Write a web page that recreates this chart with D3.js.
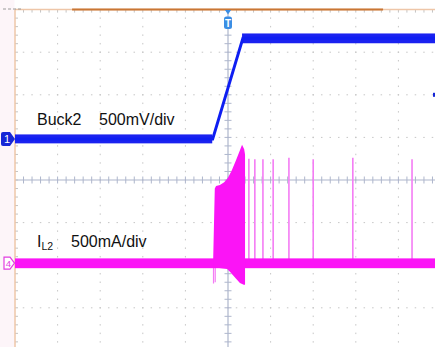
<!DOCTYPE html>
<html>
<head>
<meta charset="utf-8">
<script src="https://cdn.jsdelivr.net/npm/d3@7"></script>
<style>
  html, body { margin: 0; padding: 0; background: #fff; }
  svg { display: block; font-family: "Liberation Sans", Arial, sans-serif; }
</style>
</head>
<body>
<svg id="scope"></svg>
<script>
// scope grid: 10 x 8 divisions, values below are in divisions
const xDivs = [0, 10];
const yDivs = [-4, 4];

// Ch1 (Buck2) centre line, t = div, v = div
const buckTime  = [0, 4.64, 5.35, 10.4];
const buckLevel = [0.96, 0.96, 3.33, 3.33];
// noise band of the flat parts
const buckBandFrom = [0, 5.33];
const buckBandTo   = [4.63, 10.4];
const buckBandLow  = [0.86, 3.21];
const buckBandHigh = [1.07, 3.44];

// Ch4 (IL2) baseline
const ilLevel = -1.95;
const ilBandLow = -2.07;
const ilBandHigh = -1.84;

// switching burst envelope
const burstTopTime  = [4.65, 4.69, 4.72, 4.81, 4.91, 5.0, 5.09, 5.19, 5.28, 5.33, 5.38, 5.4];
const burstTopLevel = [-1.95, -0.2, -0.14, -0.12, -0.05, 0.05, 0.23, 0.47, 0.7, 0.83, 0.72, 0.6];
const burstLowTime  = [5.4, 5.37, 5.28, 5.19, 5.05, 4.98, 4.65];
const burstLowLevel = [-2.46, -2.46, -2.42, -2.32, -2.16, -2.09, -2.05];

// isolated pulses after the burst
const pulseTime = [5.49, 5.63, 5.82, 6.06, 6.43, 7.0, 7.93, 9.32];
const pulseTop  = [0.5, 0.49, 0.49, 0.49, 0.52, 0.49, 0.52, 0.49];
// short dips under the baseline at the burst start
const dipTime = [4.66, 4.7];
const dipLow  = [-2.43, -2.4];

class ScopeChart {

  constructor(_config) {
    this.config = {
      parentElement: _config.parentElement,
      containerWidth: _config.containerWidth || 435,
      containerHeight: _config.containerHeight || 347,
      plot: _config.plot || {left: 15, top: 9.6, width: 426, height: 340.8}
    };
    this.initVis();
  }

  initVis() {
    let vis = this;
    let p = vis.config.plot;

    vis.svg = d3.select(vis.config.parentElement)
        .attr('width', vis.config.containerWidth)
        .attr('height', vis.config.containerHeight);

    vis.xScale = d3.scaleLinear().domain(xDivs).range([p.left, p.left + p.width]);
    vis.yScale = d3.scaleLinear().domain(yDivs).range([p.top + p.height, p.top]);

    vis.renderGrid();
    vis.renderTraces();
    vis.renderMarkers();
  }

  renderGrid() {
    let vis = this;
    let x = vis.xScale, y = vis.yScale;
    let minor = d3.range(-4, 10.001, 0.2);

    // pale strip left of the graticule
    vis.svg.append('rect')
        .attr('x', 0).attr('y', 0)
        .attr('width', x(0) - 0.5).attr('height', vis.config.containerHeight)
        .attr('fill', '#fdf5f9');

    let grid = vis.svg.append('g').attr('class', 'grid');

    // dotted major lines
    d3.range(1, 10).filter(d => d !== 5).forEach(d => {
      grid.selectAll(null)
          .data(minor.filter(v => v > -4 && v < 4))
          .join('rect')
          .attr('x', x(d) - 0.5).attr('y', v => y(v) - 0.75)
          .attr('width', 1).attr('height', 1.5)
          .attr('fill', '#c6c6c6');
    });
    d3.range(-3, 4).filter(d => d !== 0).forEach(d => {
      grid.selectAll(null)
          .data(minor.filter(v => v > 0 && v < 10))
          .join('rect')
          .attr('x', v => x(v) - 0.75).attr('y', y(d) - 0.5)
          .attr('width', 1.5).attr('height', 1)
          .attr('fill', '#c6c6c6');
    });

    // centre cross with minor ticks
    let axisColor = '#aeb6cc';
    grid.append('line')
        .attr('x1', x(0)).attr('x2', x(10.3)).attr('y1', y(0)).attr('y2', y(0))
        .attr('stroke', axisColor).attr('stroke-width', 1.2);
    grid.append('line')
        .attr('x1', x(5)).attr('x2', x(5)).attr('y1', y(4)).attr('y2', y(-4))
        .attr('stroke', axisColor).attr('stroke-width', 1.2);
    grid.selectAll('.xtick')
        .data(minor.filter(v => v > 0 && v < 10.3))
        .join('line')
        .attr('x1', v => x(v)).attr('x2', v => x(v))
        .attr('y1', y(0) - 3.5).attr('y2', y(0) + 3.5)
        .attr('stroke', axisColor);
    grid.selectAll('.ytick')
        .data(minor.filter(v => v > -4 && v < 4))
        .join('line')
        .attr('y1', v => y(v)).attr('y2', v => y(v))
        .attr('x1', x(5) - 3.5).attr('x2', x(5) + 3.5)
        .attr('stroke', axisColor);

    // border ticks
    grid.selectAll('.ttick')
        .data(minor.filter(v => v > 0 && v < 10.3))
        .join('line')
        .attr('x1', v => x(v)).attr('x2', v => x(v))
        .attr('y1', y(4)).attr('y2', y(4) + 3)
        .attr('stroke', '#c4c4c4');
    grid.selectAll('.ltick')
        .data(minor.filter(v => v > -4 && v < 4))
        .join('line')
        .attr('y1', v => y(v)).attr('y2', v => y(v))
        .attr('x1', x(0)).attr('x2', x(0) + 3)
        .attr('stroke', '#c4c4c4');

    // frame: left edge and top edge with record bar
    grid.append('line')
        .attr('x1', x(0)).attr('x2', x(0)).attr('y1', y(4)).attr('y2', y(-4.2))
        .attr('stroke', '#eec6a8').attr('stroke-width', 1.5);
    grid.append('line')
        .attr('x1', x(0)).attr('x2', x(10.3)).attr('y1', y(4)).attr('y2', y(4))
        .attr('stroke', '#eec6a8').attr('stroke-width', 1.5);
    grid.append('line')
        .attr('x1', x(1.34)).attr('x2', x(8.64)).attr('y1', y(4)).attr('y2', y(4))
        .attr('stroke', '#c97634').attr('stroke-width', 2);
    grid.append('line')
        .attr('x1', 3).attr('x2', 22).attr('y1', 9).attr('y2', 9)
        .attr('stroke', '#9a9a9a').attr('stroke-width', 1)
        .attr('stroke-dasharray', '3,2');
  }

  renderTraces() {
    let vis = this;
    let x = vis.xScale, y = vis.yScale;
    let traces = vis.svg.append('g').attr('class', 'traces');

    // Ch1 noise bands and line
    traces.selectAll('.buck-band')
        .data(buckBandFrom.map((d, i) => ({from: d, to: buckBandTo[i], lo: buckBandLow[i], hi: buckBandHigh[i]})))
        .join('rect')
        .attr('x', d => x(d.from)).attr('y', d => y(d.hi))
        .attr('width', d => x(d.to) - x(d.from))
        .attr('height', d => y(d.lo) - y(d.hi))
        .attr('fill', '#1a22f0');
    traces.append('path')
        .datum(buckTime.map((t, i) => [t, buckLevel[i]]))
        .attr('d', d3.line().x(d => x(d[0])).y(d => y(d[1])))
        .attr('fill', 'none')
        .attr('stroke', '#0e1ef2').attr('stroke-width', 3);

    // Ch4 pulses after the burst
    traces.selectAll('.pulse')
        .data(pulseTime.map((t, i) => ({t: t, v: pulseTop[i]})))
        .join('line')
        .attr('x1', d => x(d.t)).attr('x2', d => x(d.t))
        .attr('y1', d => y(d.v)).attr('y2', y(ilLevel))
        .attr('stroke', '#f47cf4').attr('stroke-width', 1.6);
    traces.selectAll('.dip')
        .data(dipTime.map((t, i) => ({t: t, v: dipLow[i]})))
        .join('line')
        .attr('x1', d => x(d.t)).attr('x2', d => x(d.t))
        .attr('y1', y(ilLevel)).attr('y2', d => y(d.v))
        .attr('stroke', '#f47cf4').attr('stroke-width', 1.2);

    // Ch4 baseline band
    traces.append('rect')
        .attr('x', x(0)).attr('y', y(ilBandHigh))
        .attr('width', x(10.4) - x(0))
        .attr('height', y(ilBandLow) - y(ilBandHigh))
        .attr('fill', '#fb14f6');

    // burst envelope
    let burst = burstTopTime.map((t, i) => [t, burstTopLevel[i]])
        .concat(burstLowTime.map((t, i) => [t, burstLowLevel[i]]));
    traces.append('path')
        .datum(burst)
        .attr('d', d3.line().x(d => x(d[0])).y(d => y(d[1])).curve(d3.curveLinearClosed))
        .attr('fill', '#fb14f6');
  }

  renderMarkers() {
    let vis = this;
    let x = vis.xScale, y = vis.yScale;
    let m = vis.svg.append('g').attr('class', 'markers');

    // trigger position
    let tx = x(5);
    m.append('path')
        .attr('d', `M${tx - 3},${y(4) + 0.5} L${tx + 3},${y(4) + 0.5} L${tx},${y(4) + 5} Z`)
        .attr('fill', '#3b8ee4');
    m.append('rect')
        .attr('x', tx - 4).attr('y', 16.5).attr('width', 8).attr('height', 12.5)
        .attr('rx', 2.5).attr('fill', '#3b8ee4');
    m.append('text')
        .attr('x', tx).attr('y', 26.5)
        .attr('text-anchor', 'middle')
        .attr('font-size', 10).attr('font-weight', 'bold')
        .attr('fill', '#fff')
        .text('T');

    // Ch1 ground marker
    let c1 = y(buckLevel[0]);
    m.append('path')
        .attr('d', `M3,${c1 - 7} L10,${c1 - 7} L15,${c1} L10,${c1 + 7} L3,${c1 + 7} Q1,${c1 + 7} 1,${c1 + 5} L1,${c1 - 5} Q1,${c1 - 7} 3,${c1 - 7} Z`)
        .attr('fill', '#1626d6');
    m.append('text')
        .attr('x', 7).attr('y', c1 + 4)
        .attr('text-anchor', 'middle')
        .attr('font-size', 11)
        .attr('fill', '#fff')
        .text('1');

    // Ch4 ground marker
    let c4 = y(ilLevel);
    m.append('path')
        .attr('d', `M4,${c4 - 6} L10,${c4 - 6} L14.5,${c4} L10,${c4 + 6} L4,${c4 + 6} L4,${c4 - 6} Z`)
        .attr('fill', '#fff')
        .attr('stroke', '#e23ee0').attr('stroke-width', 1.2);
    m.append('text')
        .attr('x', 8.5).attr('y', c4 + 3.5)
        .attr('text-anchor', 'middle')
        .attr('font-size', 9.5)
        .attr('fill', '#e23ee0')
        .text('4');

    // off-screen ref marker at right edge
    m.append('rect')
        .attr('x', 433).attr('y', y(2)).attr('width', 2).attr('height', 4)
        .attr('transform', 'translate(0,-2)')
        .attr('fill', '#1626d6');

    // channel labels
    let labels = m.append('g').attr('font-size', 16).attr('fill', '#111');
    labels.append('text').attr('x', 37).attr('y', 125).text('Buck2');
    labels.append('text').attr('x', 99).attr('y', 125).text('500mV/div');

    let il = labels.append('text').attr('x', 37).attr('y', 247);
    il.append('tspan').text('I');
    il.append('tspan').attr('font-size', 10.5).attr('dy', 3).text('L2');
    labels.append('text').attr('x', 71).attr('y', 247).text('500mA/div');
  }
}

let chart = new ScopeChart({parentElement: '#scope'});
</script>
</body>
</html>
